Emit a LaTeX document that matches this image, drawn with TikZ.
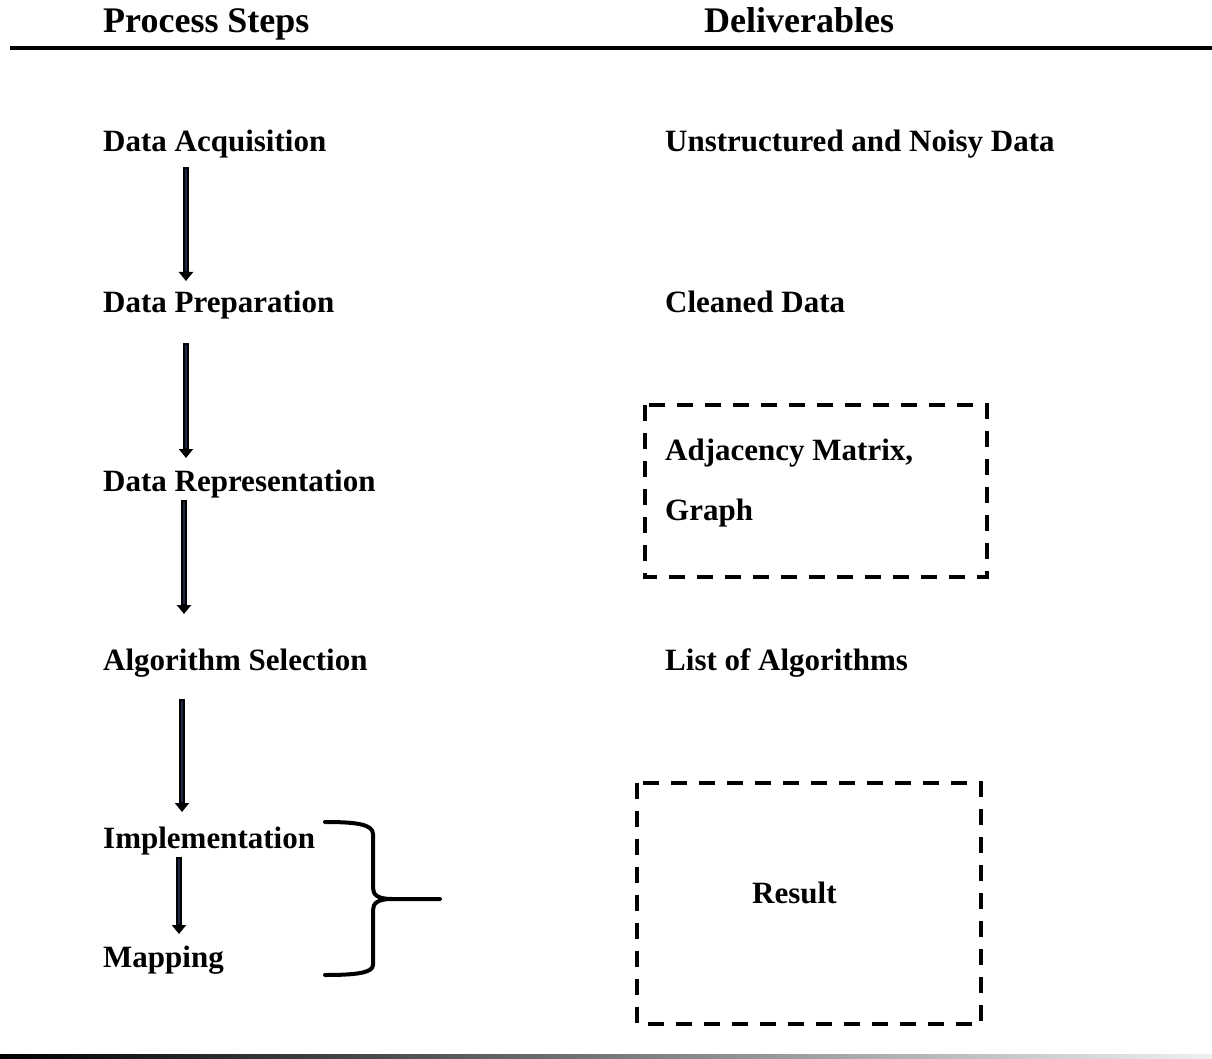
\documentclass[tikz,border=0pt]{standalone}
\usepackage{fontspec}
\setmainfont{Liberation Serif}
\usetikzlibrary{arrows.meta,calc}
\definecolor{shaft}{RGB}{28,40,72}
\begin{document}
\begin{tikzpicture}[x=1pt,y=-1pt,
  lbl/.style={anchor=base west,inner sep=0pt,font=\fontsize{31}{37}\selectfont\bfseries},
  head/.style={anchor=base west,inner sep=0pt,font=\fontsize{36}{42}\selectfont\bfseries},
  flow/.style={line width=5.5pt,draw=black,-{Triangle[width=14pt,length=9pt]}},
  flowcore/.style={line width=2pt,draw=shaft},
  dbox/.style={draw=black,line width=4pt,dash pattern=on 16pt off 12pt},
  rule/.style={line width=4pt}]
\useasboundingbox (0,0) rectangle (1212,1059);
\fill[white] (0,0) rectangle (1212,1059);

% column headings and rules
\node[head] (hproc) at (103,33) {Process Steps};
\node[head] (hdel)  at (704,33) {Deliverables};
\draw[rule] (10,48) -- (1212,48);
\shade[left color=black,right color=black!6] (0,1054) rectangle (1212,1058);

% process steps
\node[lbl] (acq)  at (103,152) {Data Acquisition};
\node[lbl] (prep) at (103,312) {Data Preparation};
\node[lbl] (rep)  at (103,491) {Data Representation};
\node[lbl] (alg)  at (103,670) {Algorithm Selection};
\node[lbl] (impl) at (103,848) {Implementation};
\node[lbl] (map)  at (103,967) {Mapping};

% deliverables
\node[lbl] (raw)   at (665,152) {Unstructured and Noisy Data};
\node[lbl] (clean) at (665,312) {Cleaned Data};
\node[lbl] (adj)   at (665,460) {Adjacency Matrix,};
\node[lbl] (graph) at (665,520) {Graph};
\node[lbl] (algs)  at (665,670) {List of Algorithms};
\node[lbl] (res)   at (752,903) {Result};

\draw[dbox] (645,405) rectangle (987,577);
\draw[dbox] (637,783) rectangle (981,1024);

% arrow end points between the steps
\coordinate (a1s) at (186,167); \coordinate (a1e) at (186,281);
\coordinate (a2s) at (186,343); \coordinate (a2e) at (186,458);
\coordinate (a3s) at (184,500); \coordinate (a3e) at (184,614);
\coordinate (a4s) at (182,699); \coordinate (a4e) at (182,812);
\coordinate (a5s) at (179,857); \coordinate (a5e) at (179,934);
\foreach \s/\e in {a1s/a1e,a2s/a2e,a3s/a3e,a4s/a4e,a5s/a5e}{
  \draw[flow] (\s) -- (\e);
  \draw[flowcore] ($(\s)+(0,2)$) -- ($(\e)+(0,-10)$);
}

% brace grouping implementation and mapping
\coordinate (btip) at (440,899);
\draw[line width=4pt,line cap=round,line join=round]
  (325,822) .. controls (355,822) and (373,824) .. (373,834)
  -- (373,888) .. controls (373,895) and (378,899) .. (392,899) -- (btip)
  (392,899) .. controls (378,899) and (373,903) .. (373,910)
  -- (373,965) .. controls (373,973) and (355,975) .. (325,975);
\end{tikzpicture}
\end{document}
